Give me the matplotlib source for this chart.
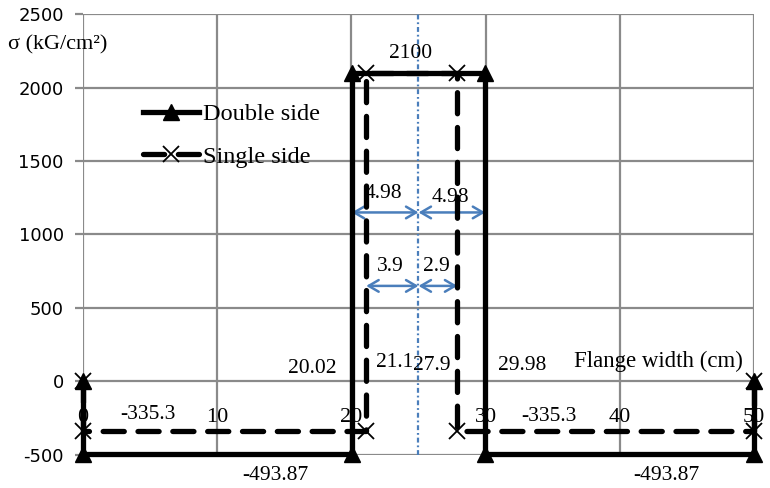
import matplotlib.pyplot as plt

plt.rcParams["axes.unicode_minus"] = False

# stress distribution across the flange
x_double = [0, 0, 20.02, 20.02, 29.98, 29.98, 50, 50]
y_double = [0, -493.87, -493.87, 2100, 2100, -493.87, -493.87, 0]
x_single = [0, 0, 21.1, 21.1, 27.9, 27.9, 50, 50]
y_single = [0, -335.3, -335.3, 2100, 2100, -335.3, -335.3, 0]

center_x = 25
x_ticks = [0, 10, 20, 30, 40, 50]
y_ticks = [-500, 0, 500, 1000, 1500, 2000, 2500]

# dimension arrows: (start, end, height)
arrows = [(20.02, 25, 1150), (25, 29.98, 1150), (21.1, 25, 650), (25, 27.9, 650)]

# value labels: (x, y, text)
labels = [
    (24.4, 2235, "2100"),
    (22.4, 1280, "4.98"),
    (27.4, 1250, "4.98"),
    (22.9, 780, "3.9"),
    (26.3, 780, "2.9"),
    (17.1, 90, "20.02"),
    (23.2, 130, "21.1"),
    (26.0, 105, "27.9"),
    (32.7, 105, "29.98"),
    (4.8, -225, "-335.3"),
    (34.7, -238, "-335.3"),
    (14.3, -640, "-493.87"),
    (43.5, -640, "-493.87"),
]

serif = "Liberation Serif"
grid_c = "#8a8a8a"
blue = "#4a7ebb"

fig = plt.figure(figsize=(7.7, 4.88), dpi=100)
ax = fig.add_axes([0.108, 0.068, 0.871, 0.903])

ax.set_xlim(0, 50)
ax.set_ylim(-500, 2500)
ax.set_xticks(x_ticks)
ax.set_yticks(y_ticks)
ax.grid(True, color=grid_c, lw=1.6)
ax.set_axisbelow(True)
for s in ax.spines.values():
    s.set_visible(False)
ax.spines["bottom"].set_position(("data", 0))
ax.tick_params(axis="x", length=0, pad=19)
ax.tick_params(axis="y", length=6, width=1.6, color=grid_c, labelsize=13, pad=8)
for t in ax.get_xticklabels():
    t.set_fontfamily(serif)
    t.set_fontsize(16)

ax.axvline(center_x, color=blue, lw=1.6, ls=(0, (2.2, 1.3, 0.8, 1.3)))

ax.plot(x_double, y_double, color="black", lw=3.8, marker="^", ms=12,
        clip_on=False, label="Double side", zorder=4)
ax.plot(x_single, y_single, color="black", lw=3.8, ls=(0, (4, 2.6)),
        dash_capstyle="round", marker="x", ms=11, mew=1.3,
        clip_on=False, label="Single side", zorder=5)

for x0, x1, y in arrows:
    ax.annotate("", xy=(x1, y), xytext=(x0, y),
                arrowprops=dict(arrowstyle="<->,head_length=0.6,head_width=0.35",
                                color=blue, lw=1.8, mutation_scale=12,
                                shrinkA=0, shrinkB=0))

for x, y, s in labels:
    ax.text(x, y, s, ha="center", va="center", family=serif, fontsize=15.5,
            zorder=6)

ax.text(42.9, 136, "Flange width (cm)", ha="center", va="center",
        family=serif, fontsize=16.5)
fig.text(0.01, 1 - 45 / 488, "σ (kG/cm²)", ha="left", va="center",
         family=serif, fontsize=16)

ax.legend(loc="upper left", bbox_to_anchor=(0.075, 0.82), frameon=False,
          prop={"family": serif, "size": 17.5}, handlelength=2.3,
          handletextpad=0.15, labelspacing=0.85, borderaxespad=0)

fig.savefig("out.png", dpi=100)
